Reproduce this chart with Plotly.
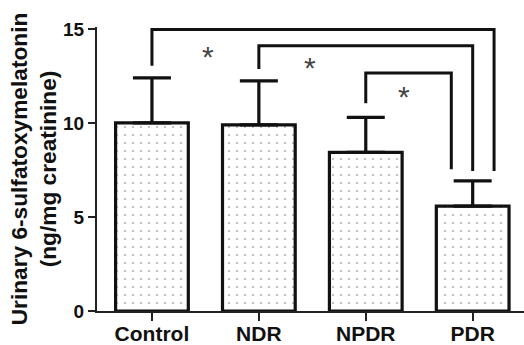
import plotly.graph_objects as go

categories = ["Control", "NDR", "NPDR", "PDR"]
means = [10.0, 9.9, 8.43, 5.58]
sd_upper = [2.39, 2.34, 1.86, 1.34]

# significance brackets: (x_left, y_left_bottom, x_right, y_right_bottom, y_top)
brackets = [
    (0.0, 13.04, 3.2, 7.45, 14.97),
    (1.0, 12.87, 3.0, 7.45, 14.1),
    (2.0, 11.04, 2.8, 7.54, 12.65),
]
stars_x = [0.52, 1.48, 2.36]
stars_y = [13.7, 13.13, 11.57]

xpos = list(range(len(categories)))
FONT = "Liberation Sans, Arial, sans-serif"

fig = go.Figure()
fig.add_trace(go.Bar(
    x=xpos, y=means, width=0.68,
    marker=dict(color="white",
                line=dict(color="#111", width=3.2),
                pattern=dict(shape=".", fgcolor="#666", bgcolor="white", size=8, solidity=0.06)),
    error_y=dict(type="data", symmetric=False, array=sd_upper, arrayminus=[0]*4,
                 color="#111", thickness=3.2, width=19),
    showlegend=False,
))

for (xl, yl, xr, yr, yt) in brackets:
    fig.add_trace(go.Scatter(
        x=[xl, xl, xr, xr], y=[yl, yt, yt, yr], mode="lines",
        line=dict(color="#111", width=3), showlegend=False, hoverinfo="skip"))

for sx, sy in zip(stars_x, stars_y):
    fig.add_annotation(x=sx, y=sy, text="*", showarrow=False, yshift=-3,
                       font=dict(family=FONT, size=30, color="#444"))

fig.update_layout(
    width=524, height=345,
    margin=dict(l=97, r=0, t=27, b=34),
    plot_bgcolor="white", paper_bgcolor="white",
    font=dict(family=FONT, color="#111"),
    xaxis=dict(range=[-0.514, 3.48], tickvals=xpos, ticktext=categories,
               automargin=False, ticklabelstandoff=-5,
               showline=True, linecolor="#222", linewidth=2,
               ticks="outside", ticklen=8, tickwidth=2, tickcolor="#222",
               tickfont=dict(size=21, family=FONT, weight="bold"),
               showgrid=False, zeroline=False),
    yaxis=dict(range=[0, 15.1], tickvals=[0, 5, 10, 15],
               automargin=False,
               showline=True, linecolor="#222", linewidth=2,
               ticks="outside", ticklen=7, tickwidth=2, tickcolor="#222",
               tickfont=dict(size=19, family=FONT, weight="bold"),
               showgrid=False, zeroline=False,
               title=dict(text="Urinary 6-sulfatoxymelatonin<br>(ng/mg creatinine)",
                          font=dict(size=22.7, family=FONT, weight="bold"),
                          standoff=0)),
)

fig.write_html("out.html", config={"displayModeBar": False},
               post_script="document.body.style.margin='0';document.body.style.overflow='hidden';")
